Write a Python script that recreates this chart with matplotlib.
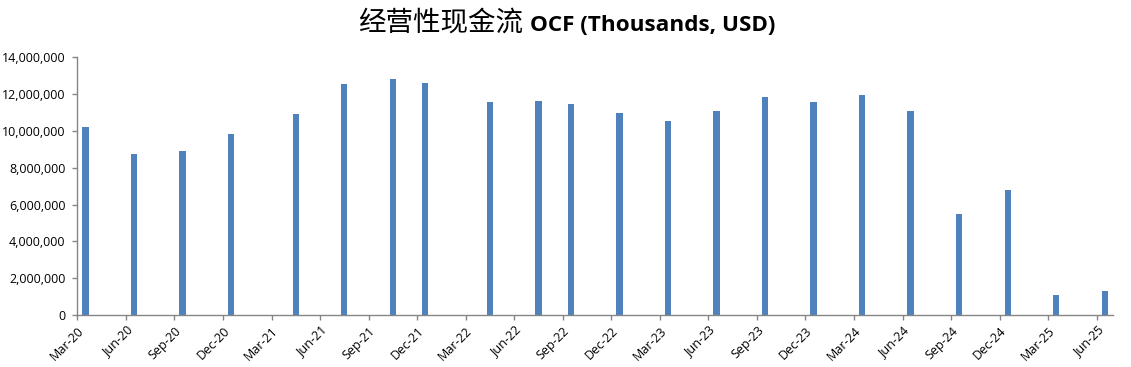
import matplotlib.pyplot as plt
from matplotlib.ticker import FuncFormatter

# reporting month of each bar (Excel date axis, base unit = months)
months = ['2020-03', '2020-06', '2020-09', '2020-12', '2021-04', '2021-07',
          '2021-10', '2021-12', '2022-04', '2022-07', '2022-09', '2022-12',
          '2023-03', '2023-06', '2023-09', '2023-12', '2024-03', '2024-06',
          '2024-09', '2024-12', '2025-03', '2025-06']
ocf = [10210000, 8750000, 8910000, 9830000, 10920000, 12550000,
       12820000, 12600000, 11570000, 11620000, 11460000, 10970000,
       10540000, 11080000, 11840000, 11570000, 11950000, 11080000,
       5490000, 6790000, 1090000, 1300000]
tick_labels = ['Mar-20', 'Jun-20', 'Sep-20', 'Dec-20', 'Mar-21', 'Jun-21',
               'Sep-21', 'Dec-21', 'Mar-22', 'Jun-22', 'Sep-22', 'Dec-22',
               'Mar-23', 'Jun-23', 'Sep-23', 'Dec-23', 'Mar-24', 'Jun-24',
               'Sep-24', 'Dec-24', 'Mar-25', 'Jun-25']


def month_index(s):
    y, m = s.split('-')
    return (int(y) - 2020) * 12 + int(m) - 3


x = [month_index(m) + 0.5 for m in months]

fig = plt.figure(figsize=(11.31, 3.67), dpi=100)
ax = fig.add_axes([0.0684, 0.1417, 0.9156, 0.7022])

ax.bar(x, ocf, width=0.39, color='#4F81BD')

ax.set_xlim(0, 64)
ax.set_ylim(0, 14000000)
ax.set_yticks(range(0, 14000001, 2000000))
ax.yaxis.set_major_formatter(FuncFormatter(lambda v, p: f'{int(v):,}'))
ax.set_xticks(range(0, 64, 3))
ax.set_xticklabels(tick_labels, rotation=45, ha='right', rotation_mode='anchor')

for s in ['top', 'right']:
    ax.spines[s].set_visible(False)
for s in ['left', 'bottom']:
    ax.spines[s].set_color('#868686')
    ax.spines[s].set_linewidth(1.0)
ax.tick_params(axis='both', direction='out', length=3.5, width=1.0,
               color='#868686', labelsize=9, labelcolor='#000000')
ax.tick_params(axis='y', pad=5)
ax.tick_params(axis='x', pad=3)
for lab in ax.get_xticklabels() + ax.get_yticklabels():
    lab.set_family('Open Sans')

fig.text(523 / 1131, 1 - 31 / 367, '经营性现金流', ha='right', va='baseline',
         family='Noto Sans CJK SC', fontsize=19.8, fontweight='normal')
fig.text(530 / 1131, 1 - 31 / 367, 'OCF (Thousands, USD)', ha='left', va='baseline',
         family='Open Sans', fontsize=16.2, fontweight='bold')

fig.savefig('out.png', dpi=100)
